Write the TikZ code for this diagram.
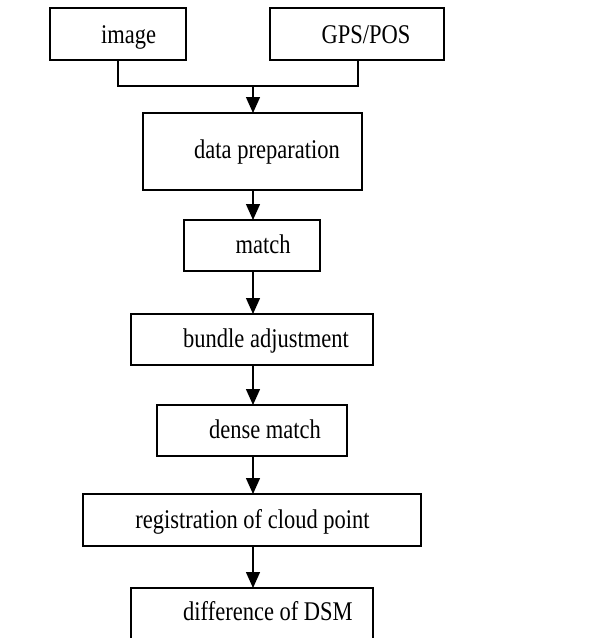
\documentclass[tikz,border=0pt]{standalone}
\usepackage{fontspec}
\setmainfont{Liberation Serif}
\usetikzlibrary{arrows.meta}
\newcommand{\tallt}[1]{\scalebox{1}[1.2]{#1}}
\begin{document}
\begin{tikzpicture}[x=1pt,y=-1pt,
  box/.style={draw,line width=1.3pt,inner sep=0pt},
  lbl/.style={anchor=base,inner sep=0pt,font=\fontsize{22.5}{24}\selectfont},
  arr/.style={line width=1.3pt,-{Triangle[width=14pt,length=16pt]}},
  ln/.style={line width=1.3pt}]
\useasboundingbox (0,0) rectangle (615,638);
\clip (0,0) rectangle (615,638);
% boxes
\draw[box] (50,8) rectangle (186,60);
\draw[box] (270,8) rectangle (444,60);
\draw[box] (143,113) rectangle (362,190);
\draw[box] (184,220) rectangle (320,271);
\draw[box] (131,314) rectangle (373,365);
\draw[box] (157,405) rectangle (347,456);
\draw[box] (83,494) rectangle (421,546);
\draw[box] (131,588) rectangle (373,660);
% named anchors for connectors
\coordinate (imgB) at (118,60);
\coordinate (gpsB) at (358,60);
\coordinate (imgJ) at (118,86);
\coordinate (gpsJ) at (358,86);
\coordinate (join) at (253,86);
\coordinate (dpT) at (253,113);
\coordinate (dpB) at (253,190);
\coordinate (mT) at (253,220);
\coordinate (mB) at (253,271);
\coordinate (baT) at (253,314);
\coordinate (baB) at (253,365);
\coordinate (dmT) at (253,405);
\coordinate (dmB) at (253,456);
\coordinate (rcT) at (253,494);
\coordinate (rcB) at (253,546);
\coordinate (dsT) at (253,588);
% texts
\node[lbl] (timg) at (128.5,43) {\tallt{image}};
\node[lbl] (tgps) at (366,43) {\tallt{GPS/POS}};
\node[lbl] (tdp) at (267,158) {\tallt{data preparation}};
\node[lbl] (tm) at (263,253) {\tallt{match}};
\node[lbl] (tba) at (266,347) {\tallt{bundle adjustment}};
\node[lbl] (tdm) at (265,438) {\tallt{dense match}};
\node[lbl] (trc) at (252.5,528) {\tallt{registration of cloud point}};
\node[lbl] (tds) at (268,620) {\tallt{difference of DSM}};
% connectors
\draw[ln] (imgB) -- (imgJ) -- (gpsJ) -- (gpsB);
\draw[arr] (join) -- (dpT);
\draw[arr] (dpB) -- (mT);
\draw[arr] (mB) -- (baT);
\draw[arr] (baB) -- (dmT);
\draw[arr] (dmB) -- (rcT);
\draw[arr] (rcB) -- (dsT);
\end{tikzpicture}
\end{document}
